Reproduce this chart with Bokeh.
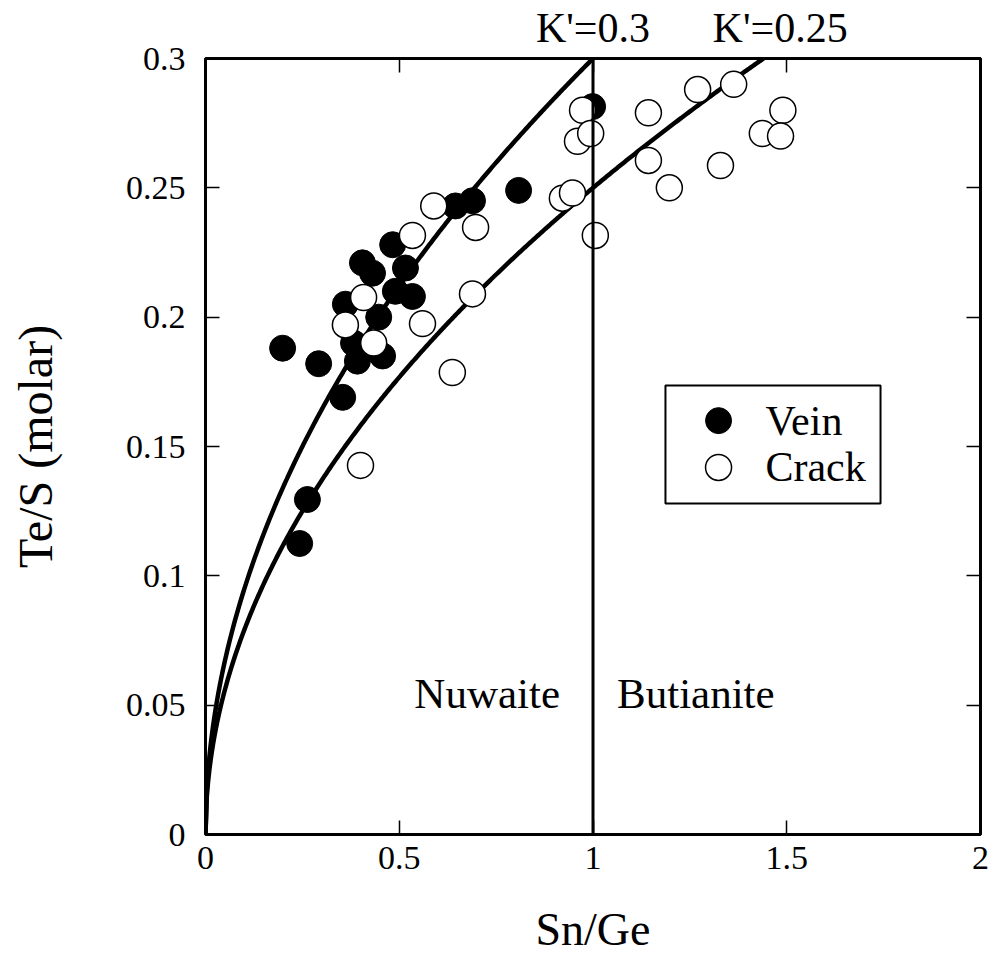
import numpy as np
from bokeh.plotting import figure
from bokeh.models import (Range1d, LinearAxis, FixedTicker, Span, Label)
from bokeh.core.properties import value
from bokeh.embed import file_html
from bokeh.resources import INLINE

# ---- data ----
vein_x = [0.199, 0.292, 0.405, 0.431, 0.483, 0.516, 0.490, 0.534, 0.361, 0.447,
          0.382, 0.392, 0.457, 0.354, 0.263, 0.243, 0.645, 0.689, 0.808, 0.999]
vein_y = [0.188, 0.182, 0.221, 0.217, 0.228, 0.219, 0.210, 0.208, 0.205, 0.200,
          0.190, 0.183, 0.185, 0.169, 0.1295, 0.1125, 0.243, 0.245, 0.249, 0.2814]

crack_x = [0.589, 0.534, 0.697, 0.408, 0.361, 0.434, 0.560, 0.689, 0.637, 0.400,
           0.973, 0.960, 0.994, 0.921, 0.947, 1.006, 1.143, 1.143, 1.270, 1.363,
           1.197, 1.329, 1.490, 1.437, 1.484]
crack_y = [0.243, 0.2316, 0.2347, 0.2076, 0.197, 0.190, 0.1975, 0.209, 0.1786, 0.1427,
           0.280, 0.268, 0.271, 0.246, 0.248, 0.2316, 0.279, 0.2606, 0.288, 0.290,
           0.250, 0.2586, 0.280, 0.271, 0.270]

k_values = [0.3, 0.25]
k_labels = ["K'=0.3", "K'=0.25"]
k_label_x = [1.0, 1.483]
boundary_x = 1.0

x_ticks = [0, 0.5, 1, 1.5, 2]
x_tick_labels = ["0", "0.5", "1", "1.5", "2"]
y_ticks = [0, 0.05, 0.1, 0.15, 0.2, 0.25, 0.3]
y_tick_labels = ["0", "0.05", "0.1", "0.15", "0.2", "0.25", "0.3"]

legend_labels = ["Vein", "Crack"]

FONT = "Liberation Serif"

p = figure(width=990, height=966, output_backend="svg", toolbar_location=None,
           x_range=Range1d(0, 2), y_range=Range1d(0, 0.3),
           min_border_left=205, min_border_right=10, min_border_top=58, min_border_bottom=132,
           x_axis_label="Sn/Ge", y_axis_label="Te/S (molar)")
p.grid.visible = False
p.outline_line_color = "black"
p.outline_line_width = 3
p.background_fill_color = "white"
p.border_fill_color = "white"

for ax, ticks, labels in ((p.xaxis[0], x_ticks, x_tick_labels), (p.yaxis[0], y_ticks, y_tick_labels)):
    ax.ticker = FixedTicker(ticks=ticks)
    ax.major_label_overrides = {t: l for t, l in zip(ticks, labels)}
    ax.minor_tick_line_color = None
    ax.major_tick_in = 14
    ax.major_tick_out = 0
    ax.major_tick_line_width = 1.5
    ax.axis_line_color = None
    ax.major_label_text_font = FONT
    ax.major_label_text_font_size = "34px"
    ax.major_label_text_color = "black"
    ax.axis_label_text_font = FONT
    ax.axis_label_text_font_style = "normal"
    ax.axis_label_text_color = "black"

p.xaxis[0].axis_label_text_font_size = "46px"
p.yaxis[0].axis_label_text_font_size = "48px"
p.xaxis[0].major_label_standoff = 12
p.xaxis[0].axis_label_standoff = 32
p.yaxis[0].major_label_standoff = 20
p.yaxis[0].axis_label_standoff = 61

# mirrored tick marks on top and right (no labels)
for loc, ticks in (("above", x_ticks), ("right", y_ticks)):
    ax = LinearAxis(ticker=FixedTicker(ticks=ticks))
    ax.major_label_overrides = {t: "" for t in ticks}
    ax.major_label_standoff = 0
    ax.minor_tick_line_color = None
    ax.major_tick_in = 14
    ax.major_tick_out = 0
    ax.major_tick_line_width = 1.5
    ax.axis_line_color = None
    p.add_layout(ax, loc)

# K' labels above the frame, as a tick-less top axis
k_axis = LinearAxis(ticker=FixedTicker(ticks=k_label_x))
k_axis.major_label_overrides = {t: l for t, l in zip(k_label_x, k_labels)}
k_axis.major_label_text_font = FONT
k_axis.major_label_text_font_size = "42px"
k_axis.major_label_text_color = "black"
k_axis.major_label_standoff = 2
k_axis.major_tick_line_color = None
k_axis.minor_tick_line_color = None
k_axis.axis_line_color = None
p.add_layout(k_axis, "above")

# model curves Te/S = K' * sqrt(Sn/Ge)
xs = np.linspace(0, 2, 600)
for k in k_values:
    p.line(xs, k * np.sqrt(xs), line_color="black", line_width=4.5)

# boundary between Nuwaite and Butianite
p.add_layout(Span(location=boundary_x, dimension="height", line_color="black", line_width=3))

p.scatter(vein_x, vein_y, size=26, marker="circle",
          fill_color="black", line_color="black", line_width=1)
p.scatter(crack_x, crack_y, size=26, marker="circle",
          fill_color="white", line_color="black", line_width=1.5)

# legend box (drawn by hand so the keys match the data markers' size)
leg_left, leg_right, leg_bottom, leg_top = 1.187, 1.742, 0.128, 0.1736
leg_key_x, leg_text_x = 1.324, 1.445
leg_rows_y = [0.1600, 0.1419]
p.quad(left=[leg_left], right=[leg_right], bottom=[leg_bottom], top=[leg_top],
       fill_color="white", line_color="black", line_width=2)
p.scatter([leg_key_x], [leg_rows_y[0]], size=26, marker="circle",
          fill_color="black", line_color="black", line_width=1)
p.scatter([leg_key_x], [leg_rows_y[1]], size=26, marker="circle",
          fill_color="white", line_color="black", line_width=1.5)
p.text([leg_text_x] * 2, leg_rows_y, text=legend_labels, text_font=value(FONT),
       text_font_size="42px", text_baseline="middle", text_align="left", text_color="black")

p.add_layout(Label(x=boundary_x, y=0.0545, text="Nuwaite", text_align="right",
                   text_baseline="middle", x_offset=-33, text_font=FONT,
                   text_font_size="43px", text_color="black"))
p.add_layout(Label(x=boundary_x, y=0.0545, text="Butianite", text_align="left",
                   text_baseline="middle", x_offset=24, text_font=FONT,
                   text_font_size="43px", text_color="black"))

open("out.html", "w").write(file_html(p, INLINE))
